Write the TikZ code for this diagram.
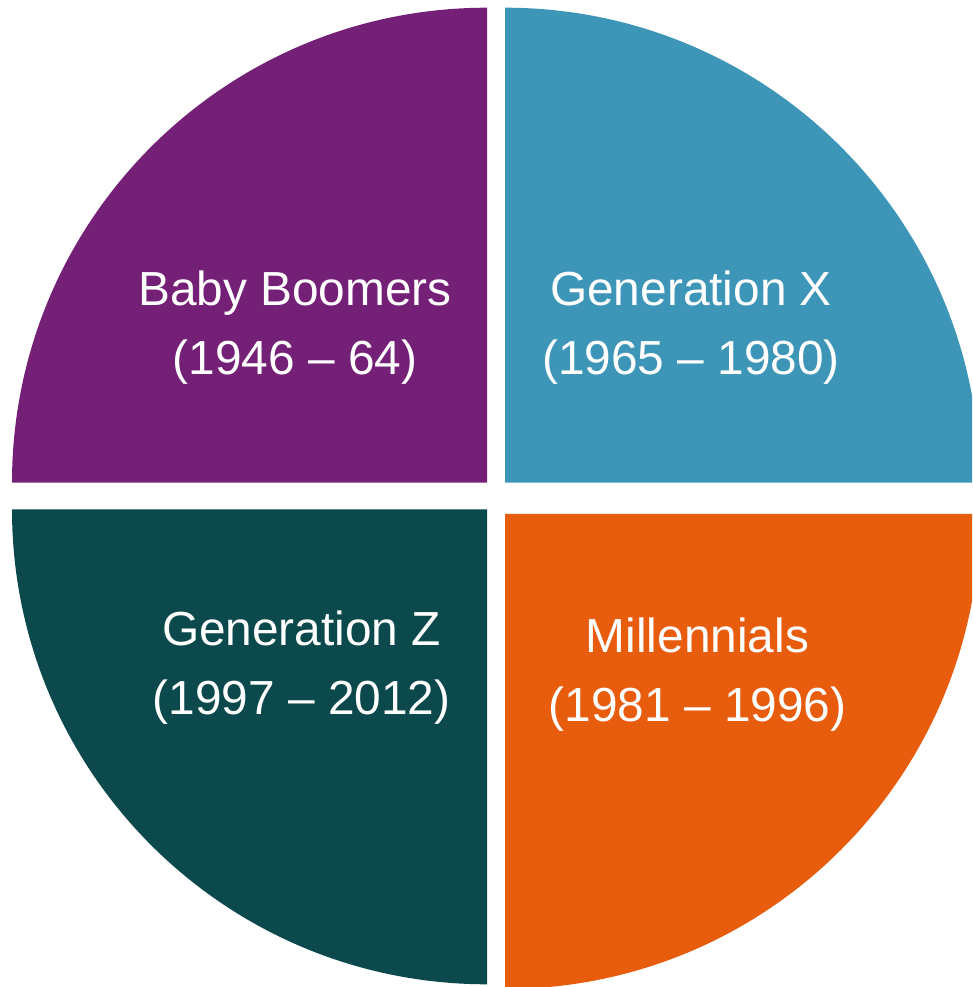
\documentclass[tikz,border=0pt]{standalone}
\usepackage{fontspec}
\setmainfont{Liberation Sans}

\definecolor{boomersBg}{HTML}{752077}
\definecolor{genXBg}{HTML}{3D96B7}
\definecolor{genZBg}{HTML}{0C494C}
\definecolor{millennialsBg}{HTML}{E85C0D}

\begin{document}
\begin{tikzpicture}[every node/.style={color=white,align=center,font=\fontsize{13.6}{19.6}\selectfont}]
\useasboundingbox (0,0) rectangle (9.72,9.87);
\clip (0,0) rectangle (9.72,9.87);

% corners of the four quarters
\coordinate (tl) at (4.87,5.043);
\coordinate (tr) at (5.05,5.043);
\coordinate (bl) at (4.87,4.777);
\coordinate (br) at (5.05,4.73);

% Baby Boomers
\fill[color=boomersBg] (tl) -- ++(180:4.75) arc (180:90:4.75) -- cycle;
\node (boomers) at (2.95,6.595) {Baby Boomers\\(1946 -- 64)};

% Generation X
\fill[color=genXBg] (tr) -- ++(90:4.75) arc (90:0:4.75) -- cycle;
\node (genX) at (6.91,6.595) {Generation X\\(1965 -- 1980)};

% Generation Z
\fill[color=genZBg] (bl) -- ++(270:4.75) arc (270:180:4.75) -- cycle;
\node (genZ) at (3.015,3.195) {Generation Z\\(1997 -- 2012)};

% Millennials
\fill[color=millennialsBg] (br) -- ++(0:4.75) arc (0:-90:4.75) -- cycle;
\node (millennials) at (6.975,3.125) {Millennials\\(1981 -- 1996)};
\end{tikzpicture}
\end{document}
